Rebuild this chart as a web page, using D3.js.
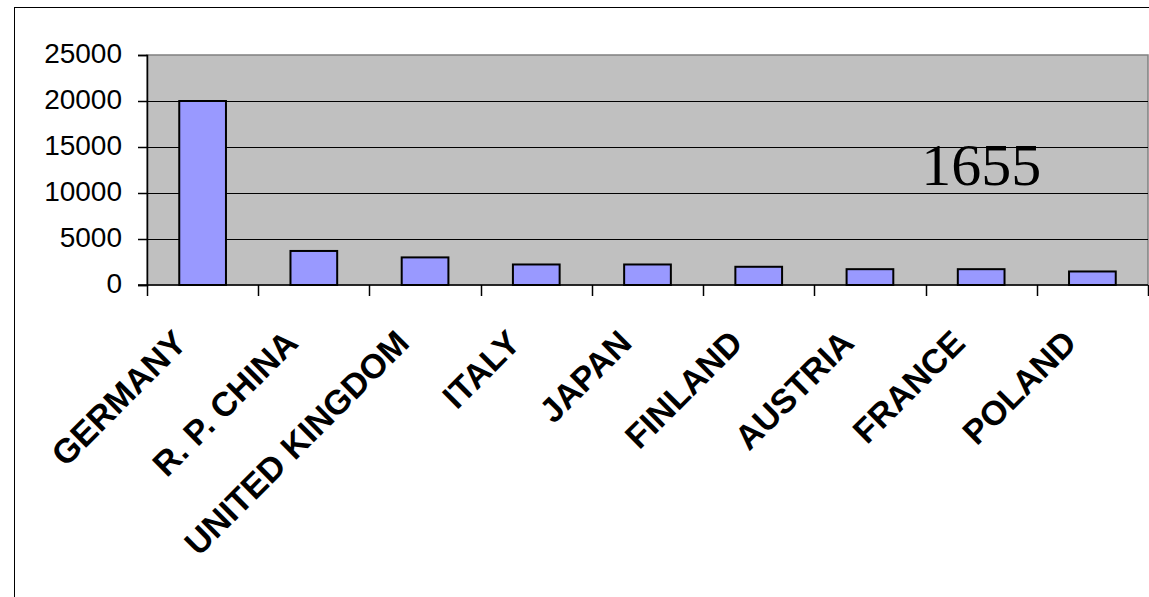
<!DOCTYPE html>
<html>
<head>
<meta charset="utf-8">
<script src="https://cdn.jsdelivr.net/npm/d3@7"></script>
<style>
  body { margin: 0; background: #fff; }
  svg { display: block; }
</style>
</head>
<body>
<div id="chart"></div>
<script>
// values
const countries = ["GERMANY", "R. P. CHINA", "UNITED KINGDOM", "ITALY", "JAPAN",
                   "FINLAND", "AUSTRIA", "FRANCE", "POLAND"];
const values = [20000, 3700, 3000, 2230, 2230, 1980, 1720, 1720, 1470];
const yTicks = [0, 5000, 10000, 15000, 20000, 25000];
const note = "1655";

let margin = { top: 55, left: 147, right: 1, bottom: 312 },
    width = 1149 - margin.left - margin.right,
    height = 597 - margin.top - margin.bottom;

const root = d3.select("#chart")
  .append("svg")
    .attr("width", 1149)
    .attr("height", 597);

// outer chart border (runs on past the window on the right and bottom)
root.append("rect")
  .attr("x", 14.5)
  .attr("y", 7.5)
  .attr("width", 1200)
  .attr("height", 700)
  .attr("fill", "#fff")
  .attr("stroke", "#000")
  .attr("stroke-width", 1);

const svg = root.append("g")
  .attr("transform", `translate(${margin.left},${margin.top})`);

const x = d3.scaleBand()
  .domain(countries)
  .range([0, width])
  .paddingInner(0.58)
  .paddingOuter(0.29);

const y = d3.scaleLinear()
  .domain([0, 25000])
  .range([height, 0]);

// plot area
svg.append("rect")
  .attr("width", width)
  .attr("height", height)
  .attr("fill", "#C0C0C0")
  .attr("stroke", "#808080")
  .attr("stroke-width", 1.5);

// gridlines
svg.selectAll(".grid")
  .data(yTicks.filter(d => d > 0 && d < 25000))
  .join("line")
    .attr("x1", 0)
    .attr("x2", width)
    .attr("y1", d => Math.round(y(d)) + 0.5)
    .attr("y2", d => Math.round(y(d)) + 0.5)
    .attr("stroke", "#000")
    .attr("stroke-width", 1);

// bars
svg.selectAll(".bar")
  .data(countries)
  .join("rect")
    .attr("x", d => x(d))
    .attr("y", (d, i) => y(values[i]))
    .attr("width", x.bandwidth())
    .attr("height", (d, i) => height - y(values[i]))
    .attr("fill", "#9999FF")
    .attr("stroke", "#000")
    .attr("stroke-width", 2);

// y axis
const yAxis = svg.append("g")
  .call(d3.axisLeft(y).tickValues(yTicks).tickFormat(d3.format("d")).tickSize(9).tickPadding(16));
yAxis.select(".domain").attr("stroke", "#000").attr("stroke-width", 1.5);
yAxis.selectAll(".tick line").attr("stroke", "#000").attr("stroke-width", 1.5);
yAxis.selectAll("text")
  .attr("dy", "0.25em")
  .style("font-family", "Arial, 'Liberation Sans', sans-serif")
  .style("font-size", "28px")
  .attr("fill", "#000");

// x axis line and category boundary ticks
svg.append("line")
  .attr("x1", -9)
  .attr("x2", width)
  .attr("y1", height)
  .attr("y2", height)
  .attr("stroke", "#000")
  .attr("stroke-width", 1.5);

const edges = countries.map(d => x(d) - x.step() * x.paddingInner() / 2).concat([width]);
svg.selectAll(".xtick")
  .data(edges)
  .join("line")
    .attr("x1", d => Math.round(d) + 0.5)
    .attr("x2", d => Math.round(d) + 0.5)
    .attr("y1", height)
    .attr("y2", height + 11)
    .attr("stroke", "#000")
    .attr("stroke-width", 1.5);

// rotated category labels
svg.selectAll(".xlabel")
  .data(countries)
  .join("text")
    .attr("transform", d => `translate(${x(d) + x.bandwidth() / 2 - 14},${height + 60}) rotate(-45)`)
    .attr("text-anchor", "end")
    .style("font-family", "Arial, 'Liberation Sans', sans-serif")
    .style("font-weight", "bold")
    .style("font-size", "34px")
    .text(d => d);

// note inside the plot
svg.append("text")
  .attr("x", x("FRANCE") + x.bandwidth() / 2)
  .attr("y", y(10900))
  .attr("text-anchor", "middle")
  .style("font-family", "'Liberation Serif', 'Times New Roman', serif")
  .style("font-size", "60px")
  .text(note);
</script>
</body>
</html>
